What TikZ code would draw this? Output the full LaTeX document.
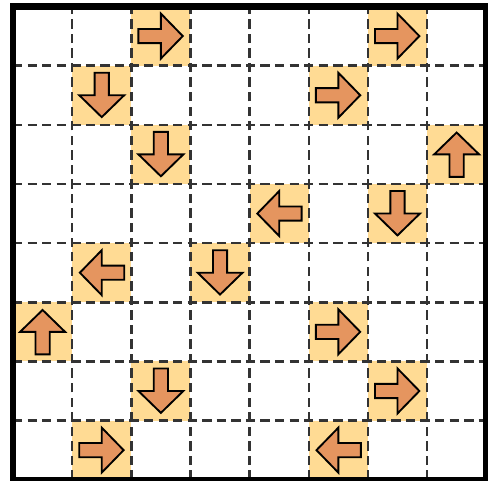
\documentclass[tikz,border=0pt]{standalone}
\usetikzlibrary{calc}
\definecolor{ccelda}{HTML}{FFDB94}
\definecolor{cflecha}{HTML}{E5955F}
\definecolor{crejilla}{HTML}{333333}
\tikzset{
  celda/.style={fill=ccelda,draw=none},
  rejilla/.style={draw=crejilla,line width=1.2pt,dash pattern=on 4.5pt off 2.5pt},
  marco/.style={draw=black,line width=3pt},
  flechac/.style={fill=cflecha,draw=black,line width=0.9pt,line join=miter},
}
\begin{document}
\begin{tikzpicture}[x=1cm,y=1cm]

\clip (-0.22,-0.02) rectangle (8.03,8.11);

% casillas con flecha: columna/fila/giro
\foreach \c/\f/\a in {3/1/0, 7/1/0, 2/2/270, 6/2/0, 3/3/270, 8/3/90,
                      5/4/180, 7/4/270, 2/5/180, 4/5/270, 1/6/90, 6/6/0,
                      3/7/270, 7/7/0, 2/8/0, 6/8/180}
  \fill[celda] (\c-1,8-\f) rectangle ++(1,1);

\foreach \i in {1,...,7} {
  \draw[rejilla] (\i,0) -- (\i,8);
  \draw[rejilla] (0,\i) -- (8,\i);
}

\foreach \c/\f/\a in {3/1/0, 7/1/0, 2/2/270, 6/2/0, 3/3/270, 8/3/90,
                      5/4/180, 7/4/270, 2/5/180, 4/5/270, 1/6/90, 6/6/0,
                      3/7/270, 7/7/0, 2/8/0, 6/8/180}
  \draw[flechac,shift={(\c-0.5,8.5-\f)},rotate=\a]
    (-0.38,-0.12) -- (0,-0.12) -- (0,-0.38) -- (0.37,0)
    -- (0,0.38) -- (0,0.12) -- (-0.38,0.12) -- cycle;

\draw[marco] (0,0) rectangle (8,8);

\end{tikzpicture}
\end{document}
